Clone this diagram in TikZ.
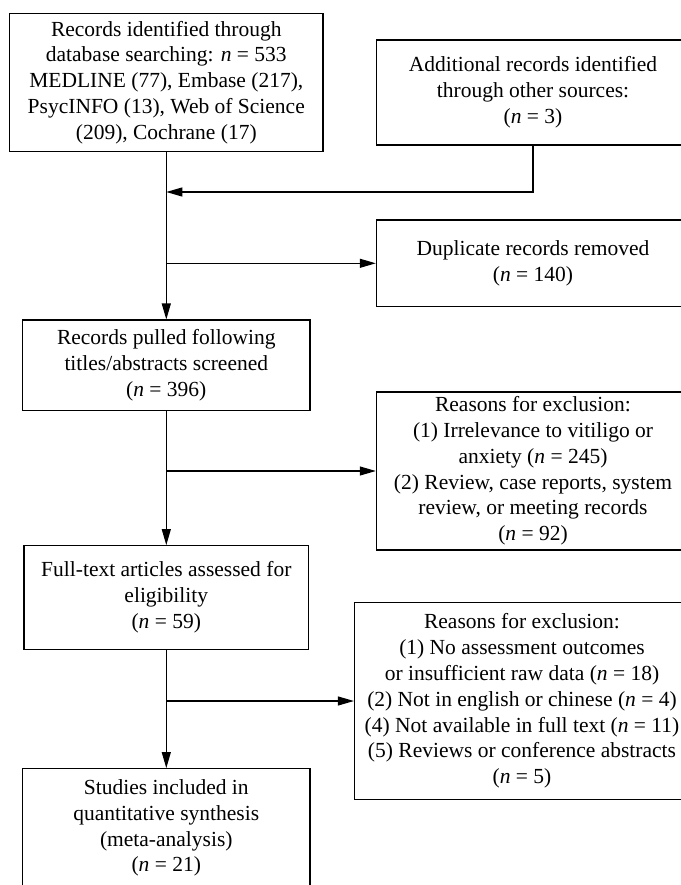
\documentclass[tikz,border=0pt]{standalone}
\usepackage{fontspec}
\setmainfont{Liberation Serif}
\usetikzlibrary{arrows.meta, positioning}
\tikzset{
  box/.style={draw, line width=1.2pt, align=center, inner sep=0pt,
    font=\fontsize{21.5}{25.8}\selectfont},
  arr/.style={line width=1.1pt, -{Triangle[length=16pt, width=9pt]}}
}
\newcommand\nn[1]{(\textit{n} = #1)}

\begin{document}
\begin{tikzpicture}[x=1pt, y=-1pt]
\useasboundingbox (0,0) rectangle (680,885);

% left column
\node (recs) [box, minimum width=313.5pt, minimum height=138.4pt] at (166.3,82.5)
  {Records identified through\\ database searching: \textit{n} = 533\\ MEDLINE (77), Embase (217),\\ PsycINFO (13), Web of Science\\ (209), Cochrane (17)};
\node (pulled) [box, minimum width=287.5pt, minimum height=90.7pt] at (166.3,365.4)
  {Records pulled following\\ titles/abstracts screened\\ \nn{396}};
\node (full) [box, minimum width=284.5pt, minimum height=103.6pt] at (166.3,597.5)
  {Full-text articles assessed for\\ eligibility\\ \nn{59}};
\node (incl) [box, minimum width=287.5pt, minimum height=118.6pt] at (166.3,828)
  {Studies included in\\ quantitative synthesis\\ (meta-analysis)\\ \nn{21}};

% right column
\node (other) [box, minimum width=313.2pt, minimum height=105pt] at (533,92.5)
  {Additional records identified\\ through other sources:\\ \nn{3}};
\node (dup) [box, minimum width=313.2pt, minimum height=86.7pt] at (533,263.3)
  {Duplicate records removed\\ \nn{140}};
\node (excla) [box, minimum width=313.2pt, minimum height=158pt] at (533,471)
  {Reasons for exclusion:\\ (1) Irrelevance to vitiligo or\\ anxiety \nn{245}\\ (2) Review, case reports, system\\ review, or meeting records\\ \nn{92}};
\node (exclb) [box, minimum width=335pt, minimum height=196.6pt] at (522,701)
  {Reasons for exclusion:\\ (1) No assessment outcomes\\ or insufficient raw data \nn{18}\\ (2) Not in english or chinese \nn{4}\\ (4) Not available in full text \nn{11}\\ (5) Reviews or conference abstracts\\ \nn{5}};

% flow
\coordinate (merge) at (recs.south |- 0,192);
\draw [arr] (other.south) |- (merge);
\draw [arr] (recs.south) -- (pulled.north);
\draw [arr] (pulled.south) -- (full.north);
\draw [arr] (full.south) -- (incl.north);

% exclusions
\foreach \a/\b in {recs/dup, pulled/excla, full/exclb} {
  \draw [arr] (\a.south |- \b.west) -- (\b.west);
}

\end{tikzpicture}
\end{document}
